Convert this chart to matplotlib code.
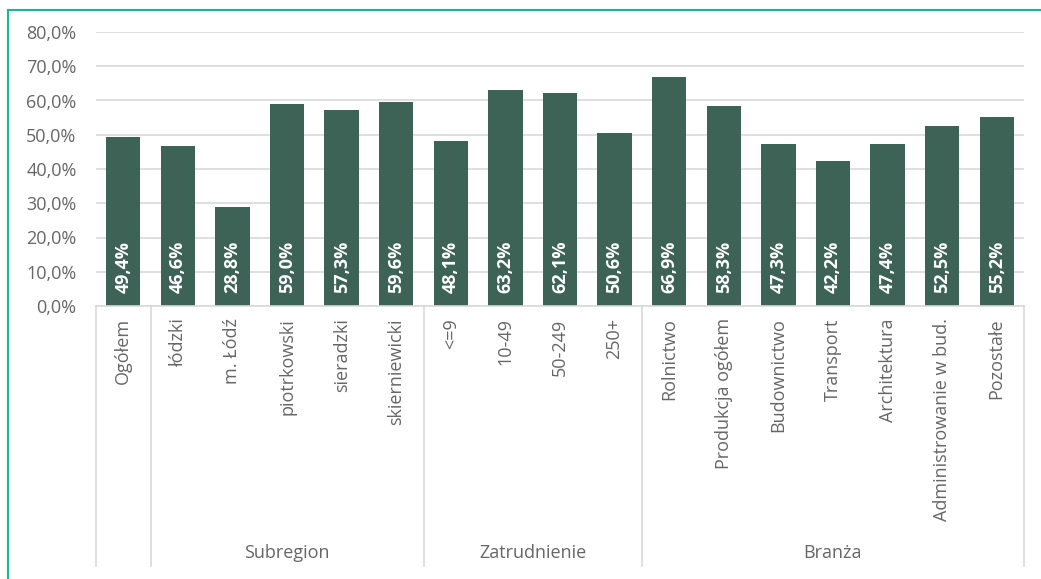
import matplotlib.pyplot as plt
from matplotlib.lines import Line2D

categories = ["Ogółem", "łódzki", "m. Łódź", "piotrkowski", "sieradzki", "skierniewicki",
              "<=9", "10-49", "50-249", "250+",
              "Rolnictwo", "Produkcja ogółem", "Budownictwo", "Transport", "Architektura",
              "Administrowanie w bud.", "Pozostałe"]
values = [49.4, 46.6, 28.8, 59.0, 57.3, 59.6, 48.1, 63.2, 62.1, 50.6,
          66.9, 58.3, 47.3, 42.2, 47.4, 52.5, 55.2]
groups = ["Subregion", "Zatrudnienie", "Branża"]
group_bounds = [(0.5, 5.5), (5.5, 9.5), (9.5, 16.5)]

plt.rcParams['font.family'] = ['Open Sans', 'DejaVu Sans']
W, H = 1041, 579
fig = plt.figure(figsize=(W / 100, H / 100), dpi=100)
ax = fig.add_axes([96 / W, 1 - 306 / H, (1024 - 96) / W, (306 - 32) / H])

bar_color = '#3D6357'
text_color = '#666666'
grid_color = '#D9D9D9'

x = list(range(len(categories)))
ax.bar(x, values, width=0.63, color=bar_color, zorder=2)
for i, v in enumerate(values):
    ax.annotate(f"{v:.1f}%".replace('.', ','), (i, 0), xytext=(0, 13), textcoords='offset pixels',
                rotation=90, ha='center', va='bottom', color='white', fontsize=13,
                fontweight='bold', zorder=3)

ax.set_xlim(-0.5, len(categories) - 0.5)
ax.set_ylim(0, 80)
ax.set_yticks(range(0, 81, 10))
ax.set_yticklabels([f"{t},0%" for t in range(0, 81, 10)], color=text_color, fontsize=13)
ax.tick_params(axis='y', length=0, pad=14)
ax.set_xticks([])
ax.grid(axis='y', color=grid_color, linewidth=1.2, zorder=0)
ax.set_axisbelow(True)
for s in ['top', 'right', 'left']:
    ax.spines[s].set_visible(False)
ax.spines['bottom'].set_color(grid_color)
ax.spines['bottom'].set_linewidth(1.2)

tr = ax.get_xaxis_transform()
for i, c in enumerate(categories):
    ax.text(i, -0.045, c, transform=tr, rotation=90, ha='center', va='top',
            color=text_color, fontsize=13)
for g, (a, b) in zip(groups, group_bounds):
    ax.text((a + b) / 2, -0.9, g, transform=tr, ha='center', va='center',
            color=text_color, fontsize=13)
for sx in [-0.5, 0.5, 5.5, 9.5, 16.5]:
    ax.add_line(Line2D([sx, sx], [0, -0.949], transform=tr, color=grid_color,
                       linewidth=1.2, clip_on=False))

teal = '#1DB49C'
fig.add_artist(Line2D([8 / W, 8 / W], [0, 1 - 10 / H], color=teal, linewidth=1.5))
fig.add_artist(Line2D([8 / W, 1], [1 - 10 / H, 1 - 10 / H], color=teal, linewidth=1.5))

fig.savefig('out.png', dpi=100, facecolor='white')
